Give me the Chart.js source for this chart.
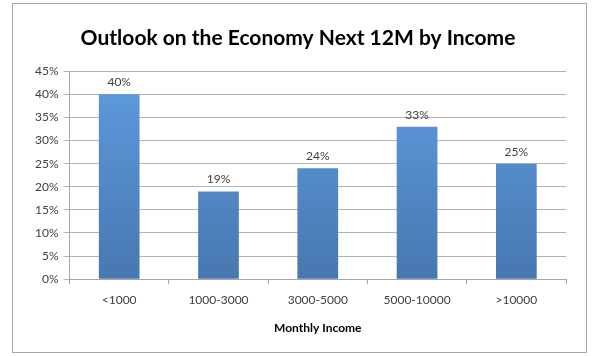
<!DOCTYPE html>
<html>
<head>
<meta charset="utf-8">
<script src="https://cdn.jsdelivr.net/npm/chart.js@4/dist/chart.umd.min.js"></script>
<style>
  html, body { margin: 0; padding: 0; background: #fff; }
  #wrap { position: relative; width: 595px; height: 356px; }
  #frame { position: absolute; left: 12px; top: 3px; width: 575px; height: 350px; border: 1px solid #a6a6a6; box-sizing: border-box; }
  canvas { position: absolute; left: 0; top: 0; }
</style>
</head>
<body>
<div id="wrap">
  <div id="frame"></div>
  <canvas id="c" width="595" height="356"></canvas>
</div>
<script>
const categories = ['<1000', '1000-3000', '3000-5000', '5000-10000', '>10000'];
const shares = [40, 19, 24, 33, 25];
const yTicks = [0, 5, 10, 15, 20, 25, 30, 35, 40, 45];

const FONT = 'Lato, "Open Sans", sans-serif';

// Vertical blue gradient across the bar area
function barFill(ctx) {
  const chart = ctx.chart;
  const area = chart.chartArea;
  if (!area) return '#5a93d3';
  const y = chart.scales.y;
  const g = chart.ctx.createLinearGradient(0, y.getPixelForValue(45), 0, y.getPixelForValue(0));
  g.addColorStop(0, '#5f9ce0');
  g.addColorStop(1, '#4777b0');
  return g;
}

// Percentage label over each bar
const valueLabels = {
  id: 'valueLabels',
  afterDatasetsDraw(chart) {
    const c = chart.ctx;
    const meta = chart.getDatasetMeta(0);
    c.save();
    c.font = '12px ' + FONT;
    c.fillStyle = '#404040';
    c.textAlign = 'center';
    c.textBaseline = 'bottom';
    meta.data.forEach((bar, i) => {
      c.fillText(shares[i] + '%', bar.x, bar.y - 6);
    });
    c.restore();
  }
};

new Chart(document.getElementById('c'), {
  type: 'bar',
  data: {
    labels: categories,
    datasets: [{
      data: shares,
      backgroundColor: barFill,
      borderWidth: 0,
      categoryPercentage: 1,
      barPercentage: 0.41
    }]
  },
  options: {
    responsive: false,
    animation: false,
    layout: { padding: { left: 30, right: 29, top: 16, bottom: 17 } },
    plugins: {
      legend: { display: false },
      tooltip: { enabled: false },
      title: {
        display: true,
        text: 'Outlook on the Economy Next 12M by Income',
        color: '#000',
        font: { family: FONT, size: 21, weight: 'bold' },
        padding: { top: 10, bottom: 20 }
      }
    },
    scales: {
      x: {
        offset: true,
        grid: { display: true, drawOnChartArea: false, drawTicks: true, tickLength: 5, color: '#a6a6a6', offset: true },
        border: { color: '#a6a6a6' },
        ticks: { color: '#404040', font: { family: FONT, size: 12 }, padding: 9 },
        title: {
          display: true,
          text: 'Monthly Income',
          color: '#000',
          font: { family: FONT, size: 12, weight: 'bold' },
          padding: { top: 4 }
        }
      },
      y: {
        min: 0,
        max: 45,
        afterBuildTicks(scale) { scale.ticks = yTicks.map(v => ({ value: v })); },
        grid: { color: '#b3b3b3', tickLength: 6 },
        border: { color: '#a6a6a6' },
        ticks: {
          color: '#404040',
          font: { family: FONT, size: 12 },
          padding: 5,
          callback: v => v + '%'
        }
      }
    }
  },
  plugins: [valueLabels]
});
</script>
</body>
</html>
